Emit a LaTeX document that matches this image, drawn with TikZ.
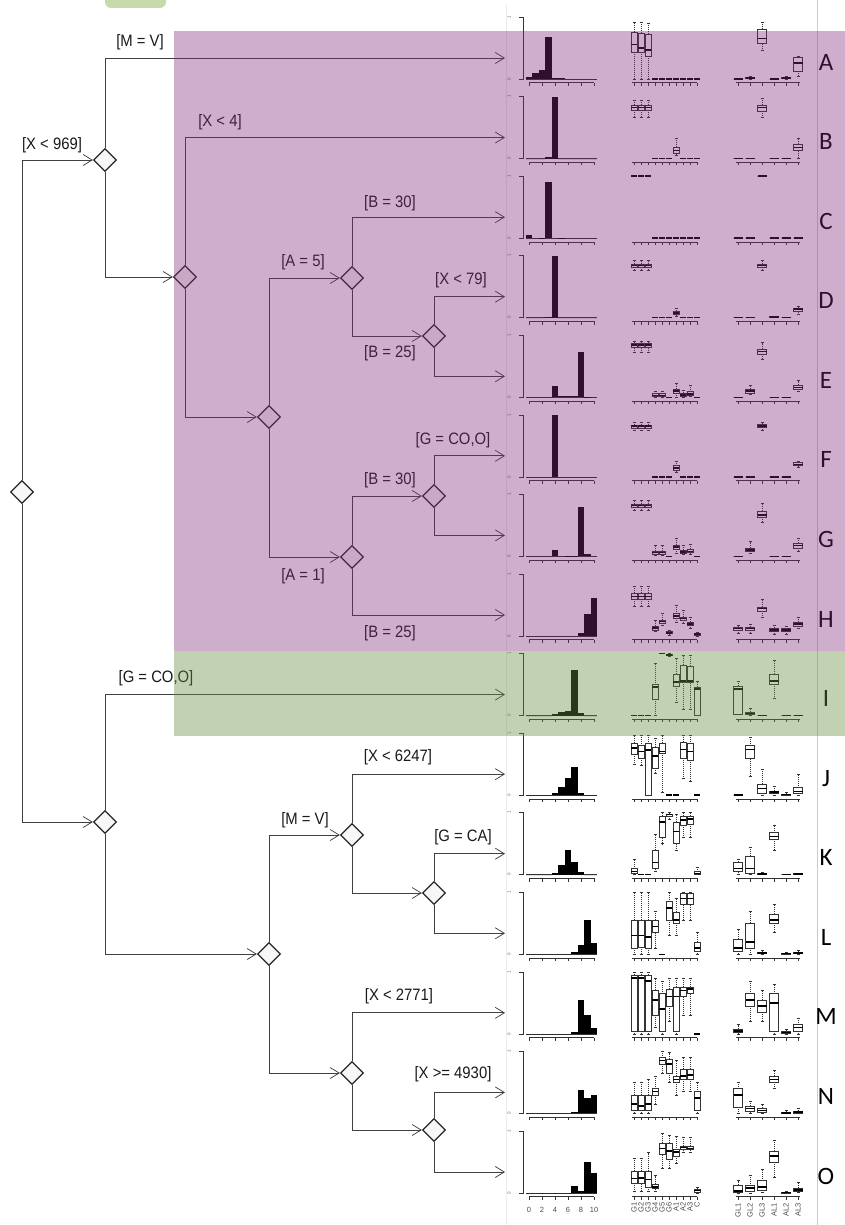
\documentclass[tikz,border=0pt]{standalone}
\usepackage{graphicx}
\usepackage{fontspec}
\setmainfont{Liberation Sans}
\newfontfamily\rowfont{Carlito}
\usetikzlibrary{arrows.meta,shapes.geometric}

\definecolor{shadepurple}{RGB}{128,40,120}
\definecolor{shadegreen}{RGB}{100,140,60}
\definecolor{tabgreen}{RGB}{199,219,170}
\definecolor{treegray}{RGB}{64,64,64}

\newcommand{\cnd}[1]{\scalebox{0.9}[1]{#1}}
% x, half width, lo, q1, median, q3, hi
\newcommand{\boxplot}[7]{%
  \draw[axisln] (#1,-0.06) -- ++(0,-0.05);
  \draw[whisker] (#1,#6) -- (#1,#7) (#1,#4) -- (#1,#3);
  \draw[axisln] (#1-1.5,#7) -- (#1+1.5,#7) (#1-1.5,#3) -- (#1+1.5,#3);
  \draw[axisln, fill=white] (#1-#2,#4) rectangle (#1+#2,#6);
  \draw[median] (#1-#2,#5) -- (#1+#2,#5);}
% row, histogram heights, gene boxes, level boxes
\newcommand{\chartrow}[4]{%
  \begin{scope}[shift={(0,79+79.57*#1)}, y=62pt]
    \draw[axisln] (519,1) -- (523,1) -- (523,0) -- (519,0);
    \node[ticklab] (one#1) at (509,1) {1};
    \node[ticklab] (zero#1) at (509,0) {0};
    \draw[axisln] (526,0) -- (597,0);
    \draw[axisln] (529,-0.06) -- (594,-0.06);
    \foreach \t in {0,2,...,10} \draw[axisln] (529+6.5*\t,-0.06) -- ++(0,-0.05);
    \foreach \h [count=\v from 0] in {#2}
      \fill[histbar] (525.75+6.5*\v,0) rectangle ++(6.5,\h);
    \draw[axisln] (632,-0.06) -- (697,-0.06);
    \foreach \lo/\qa/\md/\qb/\hi [count=\i from 0] in {#3}
      {\boxplot{634+7*\i}{2.8}{\lo}{\qa}{\md}{\qb}{\hi}}
    \draw[axisln] (736,-0.06) -- (800,-0.06);
    \foreach \lo/\qa/\md/\qb/\hi [count=\i from 0] in {#4}
      {\boxplot{738+12*\i}{4.5}{\lo}{\qa}{\md}{\qb}{\hi}}
  \end{scope}}

\begin{document}
\begin{tikzpicture}[
  x=1pt,
  y=-1pt,
  decision/.style={shape=diamond, draw=black!85, line width=1.3pt, fill=gray!6,
    minimum width=23pt, minimum height=23pt, inner sep=0pt},
  link/.style={treegray, line width=0.75pt, -{Straight Barb[length=9pt,width=11pt]}},
  cond/.style={font=\fontsize{16.5}{18}\selectfont, text=black!90, inner sep=0pt},
  leaf/.style={font=\rowfont\fontsize{25}{25}\selectfont, inner sep=0pt},
  axisln/.style={line width=0.45pt, black!80},
  whisker/.style={axisln, dash pattern=on 1pt off 1pt},
  median/.style={line width=1.5pt, black},
  histbar/.style={fill=black},
  ticklab/.style={font=\fontsize{4.5}{5}\selectfont, rotate=90, text=black!60, inner sep=0pt},
  numlab/.style={font=\fontsize{7.5}{8}\selectfont, text=black!70, inner sep=0pt},
  gnlab/.style={numlab, rotate=90, anchor=east}
]
  \useasboundingbox (0,0) rectangle (845,1225);
  \fill[tabgreen, rounded corners=6pt] (105,-10) rectangle (166,8);
  \draw[gray!15] (506,5) -- (506,1225);
  \draw[gray!40] (817,0) -- (817,1225);

  % decision nodes
  \node[decision] (root) at (22,492) {};
  \node[decision] (d1) at (105,160) {};
  \node[decision] (d2) at (185,277) {};
  \node[decision] (d3) at (269,417) {};
  \node[decision] (d4) at (352,278) {};
  \node[decision] (d5) at (352,557) {};
  \node[decision] (d6) at (434,336) {};
  \node[decision] (d7) at (434,496) {};
  \node[decision] (d8) at (105,822) {};
  \node[decision] (d9) at (269,954) {};
  \node[decision] (d10) at (352,835) {};
  \node[decision] (d11) at (352,1073) {};
  \node[decision] (d12) at (434,893) {};
  \node[decision] (d13) at (434,1130) {};

  % leaves
  \foreach \L [count=\k from 0] in {A,B,C,D,E,F,G,H,I,J,K,L,M,N,O} {
    \coordinate (in\L) at (505,58+79.57*\k);
    \node[leaf] (row\L) at (826,62+79.57*\k) {\L};
  }

  \draw[link] (root.north) |- (d1.west);
  \draw[link] (root.south) |- (d8.west);
  \draw[link] (d1.north) |- (inA);
  \draw[link] (d1.south) |- (d2.west);
  \draw[link] (d2.north) |- (inB);
  \draw[link] (d2.south) |- (d3.west);
  \draw[link] (d3.north) |- (d4.west);
  \draw[link] (d3.south) |- (d5.west);
  \draw[link] (d4.north) |- (inC);
  \draw[link] (d4.south) |- (d6.west);
  \draw[link] (d6.north) |- (inD);
  \draw[link] (d6.south) |- (inE);
  \draw[link] (d5.north) |- (d7.west);
  \draw[link] (d5.south) |- (inH);
  \draw[link] (d7.north) |- (inF);
  \draw[link] (d7.south) |- (inG);
  \draw[link] (d8.north) |- (inI);
  \draw[link] (d8.south) |- (d9.west);
  \draw[link] (d9.north) |- (d10.west);
  \draw[link] (d9.south) |- (d11.west);
  \draw[link] (d10.north) |- (inJ);
  \draw[link] (d10.south) |- (d12.west);
  \draw[link] (d12.north) |- (inK);
  \draw[link] (d12.south) |- (inL);
  \draw[link] (d11.north) |- (inM);
  \draw[link] (d11.south) |- (d13.west);
  \draw[link] (d13.north) |- (inN);
  \draw[link] (d13.south) |- (inO);

  % split conditions
  \node[cond] (c1) at (52,145) {\cnd{[X < 969]}};
  \node[cond] (c2) at (140,42) {\cnd{[M = V]}};
  \node[cond] (c3) at (220,122) {\cnd{[X < 4]}};
  \node[cond] (c4) at (303,262) {\cnd{[A = 5]}};
  \node[cond] (c5) at (390,203) {\cnd{[B = 30]}};
  \node[cond] (c6) at (390,353) {\cnd{[B = 25]}};
  \node[cond] (c7) at (461,280) {\cnd{[X < 79]}};
  \node[cond] (c8) at (390,480) {\cnd{[B = 30]}};
  \node[cond] (c9) at (453,440) {\cnd{[G = CO,O]}};
  \node[cond] (c10) at (303,576) {\cnd{[A = 1]}};
  \node[cond] (c11) at (390,633) {\cnd{[B = 25]}};
  \node[cond] (c12) at (156,678) {\cnd{[G = CO,O]}};
  \node[cond] (c13) at (305,820) {\cnd{[M = V]}};
  \node[cond] (c14) at (398,757) {\cnd{[X < 6247]}};
  \node[cond] (c15) at (463,837) {\cnd{[G = CA]}};
  \node[cond] (c16) at (399,996) {\cnd{[X < 2771]}};
  \node[cond] (c17) at (453,1074) {\cnd{[X >= 4930]}};

  % leaf profiles
  \chartrow{0}{0.04,0.1,0.15,0.68,0.02,0.02,0,0,0,0,0}
    {0/0.43/0.56/0.76/0.92, 0/0.43/0.5/0.74/0.92, 0/0.37/0.47/0.73/0.9, 0/0/0/0/0, 0/0/0/0/0,
     0/0/0/0/0, 0/0/0/0/0, 0/0/0/0/0, 0/0/0/0/0, 0/0/0/0/0}
    {0/0/0/0/0, 0/0.01/0.02/0.03/0.04, 0.47/0.57/0.65/0.8/0.92, 0/0/0/0/0,
     0/0.01/0.02/0.03/0.05, 0.04/0.13/0.26/0.35/0.37}
  \chartrow{1}{0,0,0,0.02,1,0,0,0,0,0,0}
    {0.66/0.78/0.82/0.86/0.94, 0.66/0.78/0.82/0.86/0.94, 0.66/0.78/0.82/0.86/0.94, 0/0/0/0/0,
     0/0/0/0/0, 0/0/0/0/0, 0.05/0.08/0.13/0.19/0.33, 0/0/0/0/0, 0/0/0/0/0, 0/0/0/0/0}
    {0/0/0/0/0, 0/0/0/0/0, 0.66/0.77/0.82/0.86/0.98, 0/0/0/0/0, 0/0/0/0/0,
     0.01/0.13/0.18/0.23/0.33}
  \chartrow{2}{0.05,0,0.01,0.9,0,0.01,0,0,0,0,0}
    {1/1/1/1/1, 1/1/1/1/1, 1/1/1/1/1, 0/0/0/0/0, 0/0/0/0/0, 0/0/0/0/0, 0/0/0/0/0,
     0/0/0/0/0, 0/0/0/0/0, 0/0/0/0/0}
    {0/0/0/0/0, 0/0/0/0/0, 1/1/1/1/1, 0/0/0/0/0, 0/0/0/0/0, 0/0/0/0/0}
  \chartrow{3}{0,0,0,0.01,1,0,0,0,0,0,0}
    {0.77/0.81/0.84/0.86/0.92, 0.77/0.81/0.84/0.86/0.92, 0.77/0.81/0.84/0.86/0.92, 0/0/0/0/0,
     0/0/0/0/0, 0/0/0/0/0, 0.03/0.05/0.08/0.11/0.16, 0/0/0/0/0, 0/0/0/0/0, 0/0/0/0/0}
    {0/0/0/0/0, 0/0/0/0/0, 0.77/0.81/0.84/0.86/0.92, 0/0.01/0.01/0.02/0.02, 0/0/0/0/0,
     0.06/0.1/0.14/0.16/0.19}
  \chartrow{4}{0,0,0,0,0.18,0.02,0.02,0.02,0.73,0.01,0}
    {0.72/0.8/0.84/0.87/0.9, 0.72/0.8/0.84/0.87/0.9, 0.72/0.8/0.84/0.87/0.9, 0/0.01/0.03/0.06/0.1,
     0/0.01/0.03/0.06/0.1, 0/0/0/0/0, 0/0.07/0.1/0.13/0.23, 0/0.02/0.04/0.07/0.12,
     0.01/0.03/0.05/0.09/0.2, 0/0/0/0/0}
    {0/0/0/0/0, 0.05/0.07/0.1/0.13/0.19, 0.62/0.7/0.74/0.78/0.88, 0/0/0/0/0, 0/0/0/0/0,
     0.1/0.13/0.16/0.2/0.27}
  \chartrow{5}{0,0,0,0,1,0,0,0,0,0,0}
    {0.75/0.78/0.82/0.84/0.88, 0.75/0.78/0.82/0.84/0.88, 0.75/0.78/0.82/0.84/0.88, 0/0/0/0/0,
     0/0/0/0/0, 0/0/0/0/0, 0.07/0.1/0.14/0.18/0.26, 0/0/0/0/0, 0/0/0/0/0, 0/0/0/0/0}
    {0/0/0/0/0, 0/0/0/0/0, 0.75/0.8/0.82/0.85/0.88, 0/0/0/0/0, 0/0/0/0/0,
     0.15/0.18/0.2/0.23/0.26}
  \chartrow{6}{0,0,0,0,0.1,0,0.01,0.01,0.8,0.04,0}
    {0.75/0.8/0.82/0.84/0.9, 0.75/0.8/0.82/0.84/0.9, 0.75/0.8/0.82/0.84/0.9,
     0.02/0.04/0.06/0.09/0.18, 0.02/0.04/0.06/0.09/0.18, 0/0/0/0/0, 0.05/0.12/0.15/0.18/0.3,
     0.03/0.05/0.07/0.1/0.18, 0.04/0.06/0.08/0.12/0.2, 0/0/0/0/0}
    {0/0/0/0/0, 0.05/0.08/0.1/0.14/0.24, 0.55/0.63/0.67/0.73/0.85, 0/0/0/0/0, 0/0/0/0/0,
     0.08/0.14/0.18/0.22/0.3}
  \chartrow{7}{0,0,0,0,0,0,0,0,0.05,0.35,0.61}
    {0.48/0.59/0.64/0.69/0.8, 0.48/0.59/0.64/0.69/0.8, 0.48/0.59/0.64/0.69/0.8,
     0.07/0.1/0.13/0.16/0.25, 0.17/0.21/0.23/0.26/0.37, 0.02/0.04/0.05/0.07/0.1,
     0.22/0.29/0.32/0.36/0.5, 0.2/0.25/0.28/0.31/0.42, 0.13/0.17/0.19/0.22/0.3, 0/0.02/0.03/0.04/0.06}
    {0.05/0.1/0.12/0.14/0.17, 0.05/0.1/0.12/0.14/0.19, 0.3/0.4/0.44/0.47/0.6,
     0.03/0.08/0.1/0.13/0.17, 0.03/0.08/0.1/0.12/0.16, 0.12/0.16/0.19/0.22/0.3}
  \chartrow{8}{0,0,0,0,0.02,0.05,0.08,0.73,0.04,0,0}
    {0/0/0/0/0, 0/0/0/0/0, 0/0/0/0/0, 0/0.27/0.46/0.5/0.85, 1/1/1/1/1, 0.95/0.97/0.98/0.99/1,
     0.22/0.48/0.54/0.67/0.93, 0.1/0.54/0.56/0.81/0.98, 0.1/0.53/0.56/0.8/0.98, 0/0/0.43/0.46/0.55}
    {0.02/0.02/0.43/0.47/0.56, 0.01/0.02/0.03/0.05/0.12, 0/0/0/0/0, 0.28/0.51/0.56/0.67/0.9,
     0/0/0/0/0, 0/0/0/0/0}
  \chartrow{9}{0,0,0,0,0.03,0.13,0.27,0.45,0.04,0,0}
    {0.5/0.66/0.76/0.84/0.97, 0.48/0.6/0.7/0.8/0.97, 0/0/0.73/0.83/0.97, 0.35/0.43/0.63/0.78/0.92,
     0.05/0.68/0.7/0.84/0.97, 0/0/0/0/0, 0/0/0/0/0, 0.27/0.6/0.74/0.85/0.97,
     0.23/0.57/0.7/0.83/0.97, 0/0/0/0/0}
    {0/0/0/0/0, 0.3/0.59/0.74/0.8/0.94, 0/0.03/0.11/0.18/0.42, 0/0.03/0.05/0.07/0.14,
     0/0/0.01/0.02/0.05, 0/0.03/0.06/0.12/0.33}
  \chartrow{10}{0,0,0,0,0.03,0.15,0.4,0.2,0.05,0,0}
    {0/0.02/0.05/0.1/0.25, 0/0/0/0/0, 0/0/0/0/0, 0.05/0.1/0.2/0.4/0.65, 0.5/0.6/0.85/0.95/1,
     0.9/0.95/0.97/0.98/1, 0.4/0.5/0.7/0.85/0.98, 0.6/0.8/0.88/0.95/1, 0.6/0.82/0.9/0.95/1,
     0/0/0.02/0.05/0.12}
    {0/0.05/0.1/0.2/0.25, 0/0.02/0.1/0.3/0.45, 0/0/0.01/0.02/0.04, 0.4/0.58/0.62/0.68/0.8,
     0/0/0/0/0, 0/0/0.01/0.02/0.03}
  \chartrow{11}{0,0,0,0,0,0,0,0.03,0.15,0.55,0.18}
    {0/0.1/0.3/0.55/1, 0/0.12/0.3/0.55/1, 0/0.1/0.28/0.55/1, 0.1/0.35/0.45/0.55/0.7, 0/0/0/0/0,
     0.3/0.55/0.75/0.85/1, 0.3/0.5/0.55/0.68/0.9, 0.55/0.8/0.9/0.98/1, 0.55/0.8/0.9/0.98/1,
     0/0.05/0.1/0.2/0.35}
    {0/0.05/0.1/0.25/0.4, 0/0.1/0.2/0.5/0.7, 0/0.01/0.02/0.04/0.06, 0.35/0.5/0.55/0.65/0.8,
     0/0/0.01/0.02/0.04, 0/0.01/0.02/0.04/0.06}
  \chartrow{12}{0,0,0,0,0,0,0,0.03,0.55,0.3,0.1}
    {0/0.05/0.9/0.95/1, 0/0.05/0.9/0.95/1, 0/0.05/0.85/0.95/1, 0.1/0.3/0.55/0.7/0.9,
     0/0.05/0.4/0.65/0.85, 0.2/0.45/0.6/0.72/0.9, 0/0.05/0.6/0.75/0.9, 0.3/0.6/0.7/0.75/0.9,
     0.3/0.65/0.72/0.76/0.9, 0/0/0/0/0}
    {0/0.02/0.05/0.08/0.15, 0.2/0.45/0.55/0.65/0.85, 0.2/0.35/0.45/0.55/0.7, 0/0.05/0.5/0.65/0.8,
     0/0.01/0.02/0.04/0.08, 0/0.05/0.1/0.15/0.25}
  \chartrow{13}{0,0,0,0,0,0,0,0.02,0.38,0.25,0.3}
    {0/0.05/0.15/0.3/0.5, 0/0.05/0.12/0.3/0.5, 0/0.05/0.15/0.3/0.55, 0.15/0.3/0.35/0.4/0.6,
     0.65/0.8/0.85/0.9/1, 0.5/0.65/0.8/0.88/0.98, 0.3/0.5/0.55/0.6/0.85, 0.35/0.55/0.6/0.72/0.9,
     0.35/0.55/0.62/0.72/0.9, 0/0.05/0.25/0.35/0.5}
    {0/0.1/0.3/0.4/0.5, 0/0.03/0.08/0.12/0.2, 0/0.02/0.05/0.08/0.15, 0.4/0.5/0.55/0.6/0.7,
     0/0/0.01/0.02/0.05, 0/0.01/0.02/0.04/0.08}
  \chartrow{14}{0,0,0,0,0,0,0,0.11,0.03,0.5,0.32}
    {0.03/0.16/0.23/0.35/0.56, 0.03/0.15/0.24/0.35/0.56, 0.03/0.1/0.22/0.35/0.65,
     0.03/0.07/0.1/0.14/0.28, 0.4/0.62/0.72/0.8/0.97, 0.4/0.55/0.68/0.8/0.93,
     0.48/0.6/0.66/0.7/0.91, 0.65/0.7/0.73/0.76/0.9, 0.65/0.7/0.72/0.75/0.9, 0/0.02/0.04/0.06/0.1}
    {0/0.01/0.03/0.13/0.2, 0/0.03/0.08/0.12/0.28, 0.01/0.05/0.1/0.2/0.38, 0.25/0.5/0.6/0.68/0.85,
     0/0/0.01/0.02/0.03, 0.01/0.03/0.05/0.08/0.18}

  % axis names under the last row
  \foreach \t in {0,2,...,10}
    \node[numlab] (num\t) at (529+6.5*\t,1210) {\t};
  \foreach \g [count=\i from 0] in {G1,G2,G3,G4,G5,G6,A1,A2,A3,C}
    \node[gnlab] (gene\g) at (634+7*\i,1202) {\g};
  \foreach \g [count=\i from 0] in {GL1,GL2,GL3,AL1,AL2,AL3}
    \node[gnlab] (level\g) at (738+12*\i,1203) {\g};

  % highlighted groups
  \fill[shadepurple, opacity=0.38] (174,31) rectangle (845,651);
  \fill[shadegreen, opacity=0.4] (174,651) rectangle (845,736);
\end{tikzpicture}
\end{document}
